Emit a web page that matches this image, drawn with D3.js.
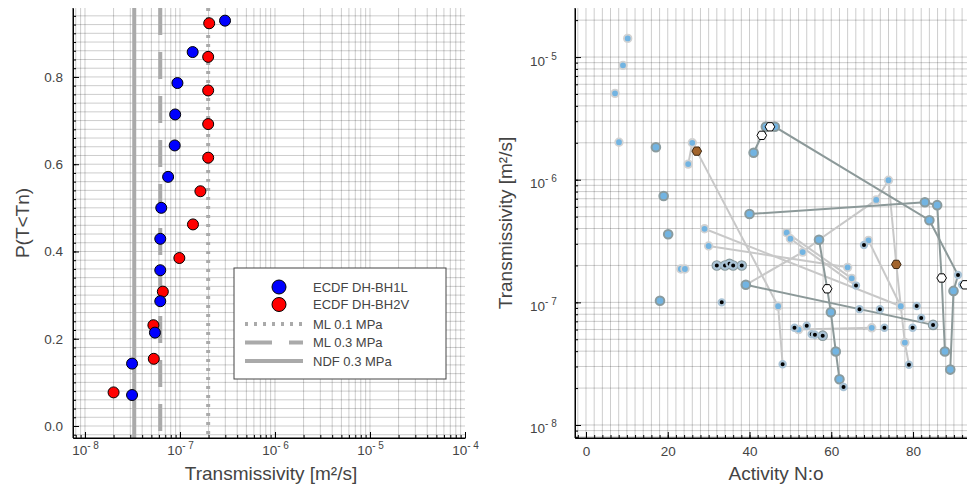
<!DOCTYPE html>
<html><head><meta charset="utf-8">
<script src="https://cdn.jsdelivr.net/npm/d3@7"></script>
<style>
body{margin:0;background:#fff;}
svg{display:block;font-family:"Liberation Sans",Arial,Helvetica,sans-serif;}
</style></head><body>
<svg id="chart" width="967" height="486"></svg>
<script>
// ---------- Left panel: empirical CDFs of transmissivity ----------
const bh1lT = [3.13e-8, 3.13e-8, 5.45e-8, 6.2e-8, 6.2e-8, 6.2e-8, 6.35e-8, 7.5e-8, 8.8e-8, 8.9e-8, 9.4e-8, 1.36e-7, 2.98e-7];
const bh1lP = [0.071, 0.143, 0.214, 0.286, 0.357, 0.429, 0.5, 0.571, 0.643, 0.714, 0.786, 0.857, 0.929];
const bh2vT = [2.0e-8, 5.3e-8, 5.25e-8, 6.6e-8, 9.85e-8, 1.37e-7, 1.64e-7, 1.98e-7, 1.98e-7, 1.98e-7, 1.98e-7, 2.03e-7];
const bh2vP = [0.077, 0.154, 0.231, 0.308, 0.385, 0.462, 0.538, 0.615, 0.692, 0.769, 0.846, 0.923];
const seriesNames = ["ECDF DH-BH1L", "ECDF DH-BH2V"];
const refNames = ["ML 0.1 MPa", "ML 0.3 MPa", "NDF 0.3 MPa"];
const refT = [1.98e-7, 6.2e-8, 3.3e-8];
const pTicks = [0.0, 0.2, 0.4, 0.6, 0.8];
const tExpLeft = [-8, -7, -6, -5, -4];

// ---------- Right panel: transmissivity against activity number ----------
const expRight = [-8, -7, -6, -5];
const actTicks = [0, 20, 40, 60, 80];
// [activity, transmissivity]
const plainPts = [[10.2,1.42e-5],[9.05,8.56e-6],[7.1,5.06e-6],[8.07,2.02e-6],[26.0,2.0e-6],[25.0,1.34e-6],
  [29.0,3.98e-7],[30.0,2.88e-7],[23.2,1.87e-7],[24.2,1.87e-7],[47.0,9.3e-8],[49.1,3.7e-7],[50.0,3.3e-7],
  [53.0,2.57e-7],[52.0,6.0e-8],[64.0,1.93e-7],[65.0,1.57e-7],[69.1,3.2e-7],[69.9,6.2e-8],[71.0,6.84e-7],
  [74.0,9.9e-7],[77.0,9.3e-8],[78.0,4.7e-8]];
const ringPts = [[17.1,1.84e-6],[19.0,7.36e-7],[20.1,3.59e-7],[18.1,1.03e-7],[40.0,5.25e-7],[41.0,1.66e-6],
  [44.0,2.7e-6],[46.2,2.7e-6],[39.1,1.39e-7],[57.0,3.24e-7],[59.9,8.3e-8],[61.1,3.98e-8],[62.0,2.36e-8],
  [82.9,6.55e-7],[85.9,6.2e-7],[84.0,4.67e-7],[87.8,3.98e-8],[89.1,2.83e-8],[89.9,1.24e-7],
  [32.0,2.0e-7],[34.0,2.0e-7],[35.1,2.06e-7],[36.0,2.0e-7],[38.1,2.0e-7],[57.9,5.35e-8],[84.9,6.55e-8]];
const dotPts = [[32.0,2.0e-7],[34.0,2.0e-7],[35.1,2.06e-7],[36.0,2.0e-7],[38.1,2.0e-7],[33.2,1.0e-7],
  [48.1,3.13e-8],[51.0,6.2e-8],[54.0,6.45e-8],[55.2,5.5e-8],[56.0,5.45e-8],[57.9,5.35e-8],[63.0,2.04e-8],
  [66.05,1.37e-7],[66.9,8.8e-8],[68.0,2.94e-7],[71.9,8.8e-8],[73.0,6.2e-8],[79.0,3.1e-8],[79.9,6.2e-8],
  [80.9,9.35e-8],[82.0,7.46e-8],[84.9,6.55e-8],[91.0,1.67e-7],[92.0,1.39e-7]];
const openHex = [[43.0,2.3e-6],[45.0,2.7e-6],[59.0,1.29e-7],[87.0,1.58e-7],[92.7,1.39e-7]];
const brownHex = [[27.1,1.71e-6],[75.9,2.04e-7]];
const lightPaths = [
  [[25.0,1.34e-6],[26.0,2.0e-6]],
  [[27.1,1.71e-6],[47.0,9.3e-8],[48.1,3.13e-8]],
  [[74.0,9.9e-7],[71.0,6.84e-7],[57.0,3.24e-7],[53.0,2.57e-7],[39.1,1.39e-7]],
  [[74.0,9.9e-7],[75.9,2.04e-7],[77.0,9.3e-8],[78.0,4.7e-8],[79.0,3.1e-8]],
  [[29.0,3.98e-7],[77.0,9.3e-8]],
  [[30.0,2.88e-7],[64.0,1.93e-7]],
  [[49.1,3.7e-7],[65.0,1.57e-7]],
  [[50.0,3.3e-7],[66.05,1.37e-7]],
  [[69.1,3.2e-7],[77.0,9.3e-8]],
  [[52.0,6.0e-8],[69.9,6.2e-8]]
];
const darkPaths = [
  [[40.0,5.25e-7],[82.9,6.55e-7],[85.9,6.2e-7],[87.0,1.58e-7],[87.8,3.98e-8]],
  [[41.0,1.66e-6],[43.0,2.3e-6],[45.0,2.7e-6],[46.2,2.7e-6],[84.0,4.67e-7],[91.0,1.67e-7],[89.9,1.24e-7],[89.1,2.83e-8]],
  [[57.0,3.24e-7],[59.0,1.29e-7],[59.9,8.3e-8],[61.1,3.98e-8],[62.0,2.36e-8],[63.0,2.04e-8]],
  [[39.1,1.39e-7],[84.9,6.55e-8]]
];

const svg = d3.select("#chart");
const txtCol = "#444";
const gridCol = "rgba(0,0,0,0.2)";

// superscripted power-of-ten label
function powLabel(sel, e) {
  sel.text(null);
  sel.append("tspan").text("10");
  sel.append("tspan").attr("dy", -6).attr("font-size", 10).text("- " + Math.abs(e));
}

// ================= LEFT PANEL =================
const L = {x0: 73, x1: 465, y0: 8, y1: 438};
const xL = d3.scaleLog().domain([Math.pow(10, -8.126), 1e-4]).range([L.x0, L.x1]);
const yL = d3.scaleLinear().domain([-0.0275, 0.958]).range([L.y1, L.y0]);

const gL = svg.append("g");
// grid
const xMinorL = [];
for (let k = -9; k <= -5; k++) for (let m = 1; m <= 9; m++) {
  const v = m * Math.pow(10, k);
  if (v >= xL.domain()[0] && v <= xL.domain()[1]) xMinorL.push(v);
}
gL.append("g").selectAll("line").data(xMinorL).join("line")
  .attr("x1", d => xL(d)).attr("x2", d => xL(d)).attr("y1", L.y0).attr("y2", L.y1)
  .attr("stroke", gridCol).attr("stroke-width", 1);
const yMinorL = d3.range(-0.02, 0.951, 0.02);
gL.append("g").selectAll("line").data(yMinorL).join("line")
  .attr("x1", L.x0).attr("x2", L.x1).attr("y1", d => yL(d)).attr("y2", d => yL(d))
  .attr("stroke", gridCol).attr("stroke-width", 1);

// reference lines
const refStyle = [{dash: "3,6"}, {dash: "27,17"}, {dash: null}];
gL.append("g").selectAll("line").data(refT).join("line")
  .attr("x1", d => xL(d)).attr("x2", d => xL(d)).attr("y1", L.y0).attr("y2", L.y1)
  .attr("stroke", "#aaaaaa").attr("stroke-width", 4)
  .attr("stroke-dasharray", (d, i) => refStyle[i].dash);

// axes
const axLb = gL.append("g").attr("transform", `translate(0,${L.y1})`)
  .call(d3.axisBottom(xL).tickValues(xMinorL).tickSizeInner(-3).tickSizeOuter(0).tickFormat(""));
const axLbMaj = gL.append("g").attr("transform", `translate(0,${L.y1})`)
  .call(d3.axisBottom(xL).tickValues(tExpLeft.map(e => Math.pow(10, e))).tickSizeInner(-6).tickSizeOuter(0).tickFormat(""));
axLbMaj.selectAll(".tick").append("text").attr("y", 17).attr("fill", txtCol)
  .attr("font-size", 13.5).attr("text-anchor", "middle")
  .each(function(d) { powLabel(d3.select(this), Math.round(Math.log10(d))); });
const axLl = gL.append("g").attr("transform", `translate(${L.x0},0)`)
  .call(d3.axisLeft(yL).tickValues(d3.range(-0.02, 0.951, 0.02)).tickSizeInner(-3).tickSizeOuter(0).tickFormat(""));
const axLlMaj = gL.append("g").attr("transform", `translate(${L.x0},0)`)
  .call(d3.axisLeft(yL).tickValues(pTicks).tickSizeInner(-6).tickSizeOuter(0).tickFormat(d3.format(".1f")));
[axLb, axLbMaj, axLl, axLlMaj].forEach(a => {
  a.select(".domain").attr("stroke", "#000").attr("stroke-width", 1);
  a.selectAll(".tick line").attr("stroke", "#000");
});
axLlMaj.selectAll(".tick text").attr("x", -10).attr("fill", txtCol).attr("font-size", 13.5)
  .attr("font-family", "Liberation Sans, Arial, sans-serif");
// extend axis lines to full extent
axLb.select(".domain").attr("d", `M${L.x0},0H${L.x1}`);
axLl.select(".domain").attr("d", `M0,${L.y0}V${L.y1}`);

// points
const mk = (ts, ps) => ts.map((t, i) => ({t, p: ps[i]}));
gL.append("g").selectAll("circle").data(mk(bh2vT, bh2vP)).join("circle")
  .attr("cx", d => xL(d.t)).attr("cy", d => yL(d.p)).attr("r", 5.5)
  .attr("fill", "#ff0000").attr("stroke", "#000").attr("stroke-width", 1);
gL.append("g").selectAll("circle").data(mk(bh1lT, bh1lP)).join("circle")
  .attr("cx", d => xL(d.t)).attr("cy", d => yL(d.p)).attr("r", 5.5)
  .attr("fill", "#0000ff").attr("stroke", "#000").attr("stroke-width", 1);

// titles
svg.append("text").attr("x", (L.x0 + L.x1) / 2 + 2).attr("y", 480).attr("text-anchor", "middle")
  .attr("font-size", 19).attr("fill", txtCol).text("Transmissivity [m²/s]");
svg.append("text").attr("transform", `translate(29,${(L.y0 + L.y1) / 2}) rotate(-90)`)
  .attr("text-anchor", "middle").attr("font-size", 19).attr("fill", txtCol).text("P(T<Tn)");

// legend
const lg = svg.append("g").attr("transform", "translate(234,268)");
lg.append("rect").attr("width", 212).attr("height", 111).attr("fill", "#fff")
  .attr("stroke", "#444").attr("stroke-width", 1);
const legRows = [19, 36.5, 56, 74.5, 93];
[["#0000ff"], ["#ff0000"]].forEach((c, i) => {
  lg.append("circle").attr("cx", 45).attr("cy", legRows[i]).attr("r", 7)
    .attr("fill", c[0]).attr("stroke", "#000").attr("stroke-width", 1);
});
refNames.forEach((n, i) => {
  lg.append("line").attr("x1", 11).attr("x2", 69).attr("y1", legRows[i + 2]).attr("y2", legRows[i + 2])
    .attr("stroke", "#aaaaaa").attr("stroke-width", 4).attr("stroke-dasharray", refStyle[i].dash);
});
seriesNames.concat(refNames).forEach((n, i) => {
  lg.append("text").attr("x", 79).attr("y", legRows[i]).attr("dy", "0.35em")
    .attr("font-size", 13).attr("fill", txtCol).text(n);
});

// ================= RIGHT PANEL =================
const R = {x0: 575, x1: 967, y0: 8, y1: 438};
const xR = d3.scaleLinear().domain([-2.69, 93.2]).range([R.x0, R.x1]);
const yR = d3.scaleLog().domain([Math.pow(10, -8.106), Math.pow(10, -4.6)]).range([R.y1, R.y0]);
const gR = svg.append("g");
svg.append("clipPath").attr("id", "clipR").append("rect")
  .attr("x", R.x0).attr("y", R.y0 - 10).attr("width", R.x1 - R.x0 + 10).attr("height", R.y1 - R.y0 + 10);

const yMinorR = [];
for (let k = -9; k <= -5; k++) for (let m = 1; m <= 9; m++) {
  const v = m * Math.pow(10, k);
  if (v >= yR.domain()[0] && v <= yR.domain()[1]) yMinorR.push(v);
}
const xMinorR = d3.range(-2, 93.2, 2);
gR.append("g").selectAll("line").data(xMinorR).join("line")
  .attr("x1", d => xR(d)).attr("x2", d => xR(d)).attr("y1", R.y0).attr("y2", R.y1)
  .attr("stroke", gridCol).attr("stroke-width", 1);
gR.append("g").selectAll("line").data(yMinorR).join("line")
  .attr("x1", R.x0).attr("x2", R.x1).attr("y1", d => yR(d)).attr("y2", d => yR(d))
  .attr("stroke", gridCol).attr("stroke-width", 1);

const axRb = gR.append("g").attr("transform", `translate(0,${R.y1})`)
  .call(d3.axisBottom(xR).tickValues(xMinorR).tickSizeInner(-3).tickSizeOuter(0).tickFormat(""));
const axRbMaj = gR.append("g").attr("transform", `translate(0,${R.y1})`)
  .call(d3.axisBottom(xR).tickValues(actTicks).tickSizeInner(-6).tickSizeOuter(0).tickFormat(d3.format("d")));
axRbMaj.selectAll(".tick text").attr("y", 8).attr("fill", txtCol).attr("font-size", 13.5)
  .attr("font-family", "Liberation Sans, Arial, sans-serif");
const axRl = gR.append("g").attr("transform", `translate(${R.x0},0)`)
  .call(d3.axisLeft(yR).tickValues(yMinorR).tickSizeInner(-3).tickSizeOuter(0).tickFormat(""));
const axRlMaj = gR.append("g").attr("transform", `translate(${R.x0},0)`)
  .call(d3.axisLeft(yR).tickValues(expRight.map(e => Math.pow(10, e))).tickSizeInner(-6).tickSizeOuter(0).tickFormat(""));
axRlMaj.selectAll(".tick").append("text").attr("x", -45).attr("y", 8).attr("fill", txtCol)
  .attr("font-size", 13.5).attr("text-anchor", "start")
  .each(function(d) { powLabel(d3.select(this), Math.round(Math.log10(d))); });
[axRb, axRbMaj, axRl, axRlMaj].forEach(a => {
  a.select(".domain").attr("stroke", "#000").attr("stroke-width", 1);
  a.selectAll(".tick line").attr("stroke", "#000");
});
axRb.select(".domain").attr("d", `M${R.x0},0H${R.x1}`);
axRl.select(".domain").attr("d", `M0,${R.y0}V${R.y1}`);

const gData = gR.append("g").attr("clip-path", "url(#clipR)");
const line = d3.line().x(d => xR(d[0])).y(d => yR(d[1]));
gData.append("g").selectAll("path").data(lightPaths).join("path")
  .attr("d", line).attr("fill", "none").attr("stroke", "#c8c8c8").attr("stroke-width", 2);
gData.append("g").selectAll("path").data(darkPaths).join("path")
  .attr("d", line).attr("fill", "none").attr("stroke", "#8c9999").attr("stroke-width", 2);

const blueFill = "#72b4e2";
gData.append("g").selectAll("circle").data(ringPts).join("circle")
  .attr("cx", d => xR(d[0])).attr("cy", d => yR(d[1])).attr("r", 4.3)
  .attr("fill", blueFill).attr("stroke", "#8a9b9e").attr("stroke-width", 2);
gData.append("g").selectAll("circle").data(plainPts).join("circle")
  .attr("cx", d => xR(d[0])).attr("cy", d => yR(d[1])).attr("r", 3.8)
  .attr("fill", blueFill).attr("stroke", "#d2d2d2").attr("stroke-width", 1.8);
gData.append("g").selectAll("circle").data(dotPts).join("circle")
  .attr("cx", d => xR(d[0])).attr("cy", d => yR(d[1])).attr("r", 3.1)
  .attr("fill", "#000").attr("stroke", "#a9c3d6").attr("stroke-width", 2.2);

const hexPath = r => {
  const pts = d3.range(6).map(i => {
    const a = Math.PI / 3 * i;
    return [r * Math.cos(a), r * Math.sin(a)];
  });
  return "M" + pts.join("L") + "Z";
};
gData.append("g").selectAll("path").data(openHex).join("path")
  .attr("transform", d => `translate(${xR(d[0])},${yR(d[1])})`).attr("d", hexPath(4.8))
  .attr("fill", "#fff").attr("stroke", "#000").attr("stroke-width", 1);
gData.append("g").selectAll("path").data(brownHex).join("path")
  .attr("transform", d => `translate(${xR(d[0])},${yR(d[1])})`).attr("d", hexPath(4.8))
  .attr("fill", "#a2642c").attr("stroke", "#3b2610").attr("stroke-width", 1);

svg.append("text").attr("x", 776).attr("y", 480).attr("text-anchor", "middle")
  .attr("font-size", 19).attr("fill", txtCol).text("Activity N:o");
svg.append("text").attr("transform", `translate(512,${(R.y0 + R.y1) / 2}) rotate(-90)`)
  .attr("text-anchor", "middle").attr("font-size", 19).attr("fill", txtCol).text("Transmissivity [m²/s]");
</script>
</body></html>
